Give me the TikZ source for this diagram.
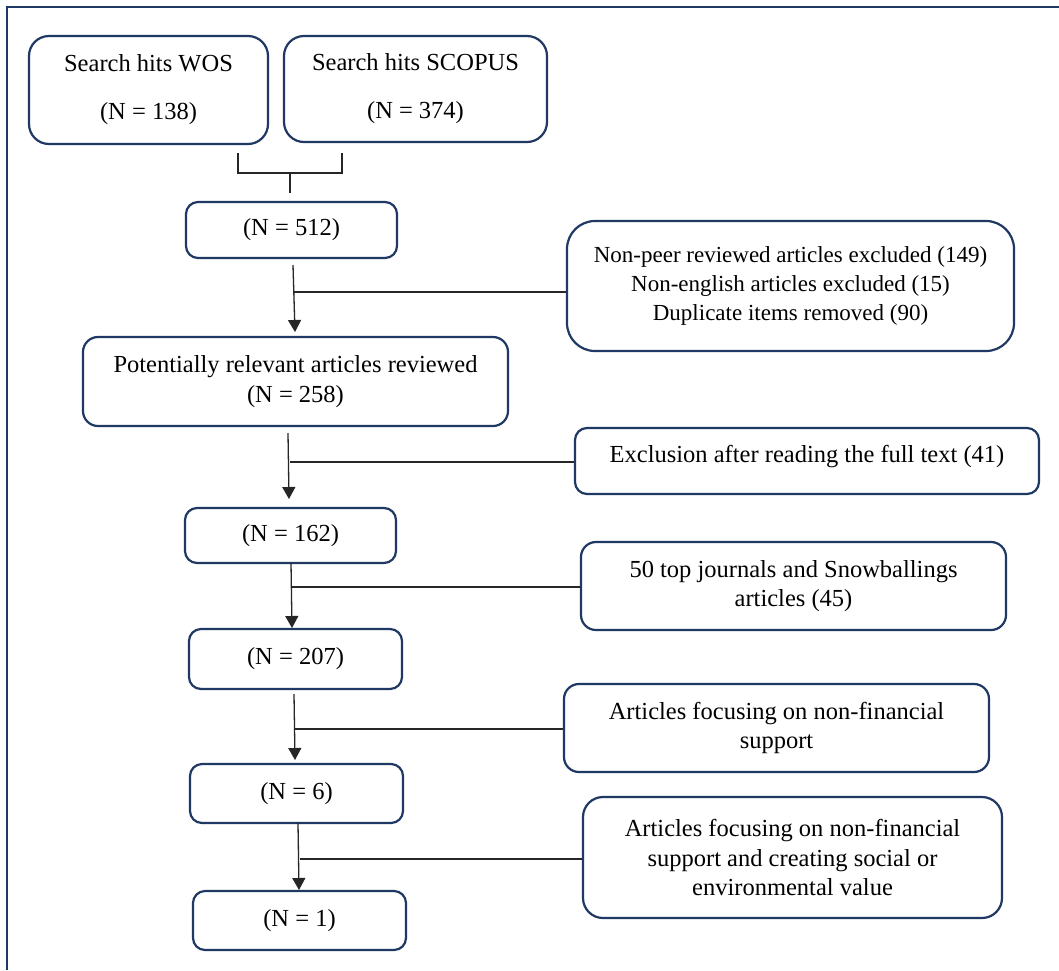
\documentclass[tikz,border=0pt]{standalone}
\usepackage{fontspec}
\setmainfont{Liberation Serif}
\usetikzlibrary{arrows.meta}
\definecolor{navy}{HTML}{1F3864}
\begin{document}
\begin{tikzpicture}[x=1pt,y=-1pt,
  box/.style={draw=navy, line width=2.2pt, rounded corners=12pt, align=center, inner sep=0pt,
    font=\fontsize{24.5}{29.5}\selectfont, text=black},
  conn/.style={draw=black!85, line width=1.3pt},
  arr/.style={conn, -{Triangle[width=13pt,length=12pt]}},
  frameline/.style={draw=navy, line width=2.8pt}]
\useasboundingbox (0,0) rectangle (1059,970);
\fill[white] (0,0) rectangle (1059,970);
% frame (top and left)
\draw[frameline] (7,970) -- (7,7) -- (1059,7);

% main column
\node[box, rounded corners=20pt, minimum width=239pt, minimum height=108pt] (wos) at (148.5,90)
  {Search hits WOS\\[18.5pt](N = 138)};
\node[box, rounded corners=20pt, minimum width=263pt, minimum height=106pt] (scopus) at (415.5,89)
  {Search hits SCOPUS\\[18.5pt](N = 374)};
\node[box, minimum width=211pt, minimum height=56pt] (n512) at (291.5,230) {(N = 512)};
\node[box, rounded corners=15pt, minimum width=425pt, minimum height=89pt] (pot) at (295.5,381.5)
  {Potentially relevant articles reviewed\\(N = 258)};
\node[box, minimum width=211pt, minimum height=55pt] (n162) at (290.5,535.5) {(N = 162)};
\node[box, minimum width=213pt, minimum height=60pt] (n207) at (295.5,659) {(N = 207)};
\node[box, minimum width=213pt, minimum height=59pt] (n6) at (296.5,793.5) {(N = 6)};
\node[box, minimum width=213pt, minimum height=59pt] (n1) at (299.5,920.5) {(N = 1)};

% side boxes
\node[box, rounded corners=28pt, minimum width=447pt, minimum height=130pt,
  font=\fontsize{23}{29}\selectfont] (ex1) at (790.5,286)
  {Non-peer reviewed articles excluded (149)\\Non-english articles excluded (15)\\Duplicate items removed (90)};
\node[box, minimum width=464pt, minimum height=66pt] (ex2) at (807,461)
  {\raisebox{4pt}[\height][\depth]{Exclusion after reading the full text (41)}};
\node[box, rounded corners=15pt, minimum width=425pt, minimum height=88pt] (top50) at (793.5,586)
  {50 top journals and Snowballings\\articles (45)};
\node[box, rounded corners=15pt, minimum width=425pt, minimum height=88pt] (art1) at (776.5,728)
  {Articles focusing on non-financial\\support};
\node[box, rounded corners=20pt, minimum width=419pt, minimum height=121pt] (art2) at (792.5,857.5)
  {Articles focusing on non-financial\\support and creating social or\\environmental value};

% bracket joining the two searches
\coordinate (bl) at (238,153);
\coordinate (br) at (342,153);
\coordinate (bm) at (290,173);
\coordinate (bs) at (290,193);
\draw[conn] (bl) -- (bl |- bm) -- (br |- bm) -- (br);
\draw[conn] (bm) -- (bs);

% arrows with side branches
\coordinate (a1s) at (293,265); \coordinate (a1e) at (295,332); \coordinate (h1) at (294,292);
\coordinate (a2s) at (288,433); \coordinate (a2e) at (289,499); \coordinate (h2) at (289.5,462);
\coordinate (a3s) at (291,563); \coordinate (a3e) at (292,628); \coordinate (h3) at (291.5,587);
\coordinate (a4s) at (294,694); \coordinate (a4e) at (295,760); \coordinate (h4) at (295,729);
\coordinate (a5s) at (298,823); \coordinate (a5e) at (299,890); \coordinate (h5) at (299.5,859);

\draw[arr] (a1s) -- (a1e);
\draw[conn] (h1) -- (h1 -| ex1.west);
\draw[arr] (a2s) -- (a2e);
\draw[conn] (h2) -- (h2 -| ex2.west);
\draw[arr] (a3s) -- (a3e);
\draw[conn] (h3) -- (h3 -| top50.west);
\draw[arr] (a4s) -- (a4e);
\draw[conn] (h4) -- (h4 -| art1.west);
\draw[arr] (a5s) -- (a5e);
\draw[conn] (h5) -- (h5 -| art2.west);
\end{tikzpicture}
\end{document}
